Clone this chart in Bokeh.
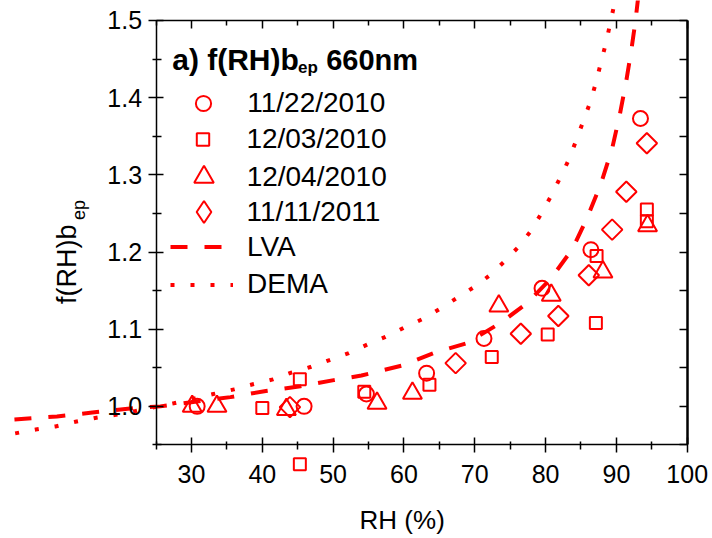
import numpy as np
from bokeh.plotting import figure
from bokeh.models import (LinearAxis, FixedTicker, NumeralTickFormatter, CustomJSTickFormatter,
                          Legend, LegendItem, Label)
from bokeh.embed import file_html
from bokeh.resources import INLINE

# ---------------- data ----------------
circ_x = [30.8, 45.9, 54.7, 63.2, 71.3, 79.5, 86.4, 93.4]
circ_y = [1.000, 1.000, 1.016, 1.043, 1.088, 1.153, 1.203, 1.373]

sq_x = [40.0, 45.3, 45.3, 54.4, 63.6, 72.4, 80.3, 87.1, 87.2, 94.3, 94.3]
sq_y = [0.998, 1.035, 0.925, 1.019, 1.028, 1.064, 1.093, 1.108, 1.195, 1.255, 1.240]

tri_x = [30.1, 33.6, 43.4, 56.2, 61.2, 73.4, 80.8, 88.1, 94.4]
tri_y = [1.000, 1.000, 0.996, 1.004, 1.017, 1.130, 1.144, 1.174, 1.234]

dia_x = [43.9, 67.3, 76.5, 81.8, 86.1, 89.4, 91.4, 94.3]
dia_y = [0.999, 1.056, 1.094, 1.117, 1.170, 1.229, 1.278, 1.341]

lva_x = [5, 11, 16, 21, 25.6, 30.5, 35.5, 40.5, 45.4, 50.1, 54, 59.8, 64.2, 68.9, 73.6,
         77.3, 80.7, 83.8, 85.9, 87.8, 89.4, 90.5, 91.4, 92.1, 92.7, 93.2]
lva_y = [0.983, 0.987, 0.992, 0.997, 1.000, 1.006, 1.012, 1.020, 1.026, 1.034, 1.040, 1.053,
         1.069, 1.082, 1.108, 1.133, 1.165, 1.204, 1.245, 1.288, 1.334, 1.379, 1.422, 1.461,
         1.500, 1.540]

dema_x = [5.1, 8.0, 10.8, 13.6, 16.4, 19.3, 22.1, 24.8, 27.5, 30.3, 33.1, 36.0, 38.8, 41.5,
          44.2, 46.8, 49.5, 52.2, 54.8, 57.4, 60.0, 62.6, 65.0, 67.4, 69.8, 72.0, 74.1, 76.1,
          77.9, 79.4, 80.8, 82.1, 83.3, 84.3, 85.3, 86.3, 87.1, 87.8, 88.5, 89.1, 89.7, 90.1]
dema_y = [0.965, 0.970, 0.974, 0.980, 0.985, 0.989, 0.994, 0.999, 1.004, 1.010, 1.016, 1.022,
          1.029, 1.035, 1.044, 1.051, 1.060, 1.069, 1.080, 1.090, 1.102, 1.113, 1.126, 1.140,
          1.154, 1.169, 1.187, 1.206, 1.227, 1.250, 1.273, 1.297, 1.320, 1.344, 1.369, 1.394,
          1.419, 1.445, 1.470, 1.495, 1.521, 1.545]

series_labels = ["11/22/2010", "12/03/2010", "12/04/2010", "11/11/2011", "LVA", "DEMA"]

x_ticks = [30, 40, 50, 60, 70, 80, 90, 100]
x_minor = [25, 35, 45, 55, 65, 75, 85, 95]
y_ticks = [1.0, 1.1, 1.2, 1.3, 1.4, 1.5]
y_minor = [0.95, 1.05, 1.15, 1.25, 1.35, 1.45]
x_bounds = (25, 100)
y_bounds = (0.95, 1.5)

# ---------------- figure ----------------
FONT = "Liberation Sans"
RED = "#ff0000"
W, H = 712, 538

p = figure(width=W, height=H, x_range=(3.03, 103.57), y_range=(0.8288, 1.5259),
           x_axis_type=None, y_axis_type=None, toolbar_location=None,
           output_backend="svg", min_border=0)
p.outline_line_color = None
p.background_fill_color = "white"
p.border_fill_color = "white"


def style_axis(ax, lw=1.5):
    ax.axis_line_color = "black"
    ax.axis_line_width = lw
    ax.major_tick_line_color = "black"
    ax.major_tick_line_width = lw
    ax.minor_tick_line_color = "black"
    ax.minor_tick_line_width = lw
    ax.major_label_text_font = FONT
    ax.major_label_text_font_size = "25px"
    ax.major_label_text_color = "black"


empty = CustomJSTickFormatter(code="return ''")

xb = LinearAxis(fixed_location=y_bounds[0], bounds=x_bounds,
                ticker=FixedTicker(ticks=x_ticks, minor_ticks=x_minor))
style_axis(xb)
xb.major_tick_in, xb.major_tick_out = 7, 8
xb.minor_tick_in, xb.minor_tick_out = 3, 5
xb.major_label_standoff = 12
p.add_layout(xb, "below")

xt = LinearAxis(fixed_location=y_bounds[1], bounds=x_bounds,
                ticker=FixedTicker(ticks=x_ticks, minor_ticks=x_minor), formatter=empty)
style_axis(xt)
xt.major_tick_in, xt.major_tick_out = 8, 0
xt.minor_tick_in, xt.minor_tick_out = 5, 0
p.add_layout(xt, "above")

yl = LinearAxis(fixed_location=x_bounds[0], bounds=y_bounds,
                ticker=FixedTicker(ticks=y_ticks, minor_ticks=y_minor),
                formatter=NumeralTickFormatter(format="0.0"))
style_axis(yl)
yl.major_tick_in, yl.major_tick_out = 7, 8
yl.minor_tick_in, yl.minor_tick_out = 5, 4
yl.major_label_standoff = 6
p.add_layout(yl, "left")

yr = LinearAxis(fixed_location=x_bounds[1], bounds=y_bounds,
                ticker=FixedTicker(ticks=y_ticks, minor_ticks=y_minor), formatter=empty)
style_axis(yr, lw=2.5)
yr.major_tick_line_width = 1.5
yr.minor_tick_line_width = 1.5
yr.major_tick_in, yr.major_tick_out = 8, 0
yr.minor_tick_in, yr.minor_tick_out = 8, 0
p.add_layout(yr, "right")

# ---------------- curves & points ----------------
r_lva = p.line(lva_x, lva_y, line_color=RED, line_width=4, line_dash="17 17")
r_dema = p.line(dema_x, dema_y, line_color=RED, line_width=4, line_dash="4 16")

mk = dict(fill_color=None, line_color=RED, line_width=2)
r_c = p.scatter(circ_x, circ_y, marker="circle", size=15, **mk)
r_s = p.scatter(sq_x, sq_y, marker="square", size=12, **mk)
r_t = p.scatter(tri_x, tri_y, marker="triangle", size=19, **mk)
r_d = p.scatter(dia_x, dia_y, marker="square", angle=np.pi / 4, size=14.5, **mk)
# legend symbol for the diamonds (the legend never rotates markers)
r_d_leg = p.scatter(dia_x, dia_y, marker="diamond", size=22, muted_alpha=0, **mk)
r_d_leg.muted = True

# ---------------- legend: one row per Legend so each symbol gets its size ----------------
rows = [  # renderer, symbol size (px), row centre from top, symbol centre x
    (r_c, 15.0, 103.3, 203.0),
    (r_s, 12.5, 139.3, 203.0),
    (r_t, 19.5, 176.7, 203.0),
    (r_d_leg, 22.0, 211.7, 203.0),
    (r_lva, None, 246.7, 201.5),
    (r_dema, None, 284.0, 201.5),
]
LABEL_X = 246.7
for (rend, size, cy, cx), text in zip(rows, series_labels):
    gw = size / 0.4 if size else 63.0
    gh = max(40.0, gw)
    left = cx - gw / 2
    leg = Legend(
        items=[LegendItem(label=text, renderers=[rend])],
        location=(left, H - cy - gh / 2),
        glyph_width=int(round(gw)), glyph_height=int(round(gh)), label_height=int(round(gh)),
        spacing=0, padding=0, margin=0,
        label_standoff=int(round(LABEL_X - left - gw)),
        label_text_font=FONT, label_text_font_size="28px", label_text_color="black",
        border_line_color=None, background_fill_alpha=0,
    )
    p.add_layout(leg)

# ---------------- titles ----------------
def lab(**kw):
    base = dict(x_units="screen", y_units="screen", text_font=FONT, text_color="black",
                text_baseline="alphabetic", text_align="left")
    base.update(kw)
    p.add_layout(Label(**base))


lab(x=171.7, y=H - 59, text="a) f(RH)b", text_font_size="30px", text_font_style="bold")
lab(x=297.5, y=H - 66.5, text="ep", text_font_size="17px", text_font_style="bold")
lab(x=325.7, y=H - 59, text="660nm", text_font_size="29px", text_font_style="bold")

lab(x=66, y=H - 303.6, angle=np.pi / 2, text="f(RH)b", text_font_size="27px")
lab(x=78.5, y=H - 219.5, angle=np.pi / 2, text="ep", text_font_size="18px")

lab(x=401.7, y=H - 519.5, text="RH (%)", text_align="center", text_font_size="26px")

open("out.html", "w").write(file_html(p, INLINE))
